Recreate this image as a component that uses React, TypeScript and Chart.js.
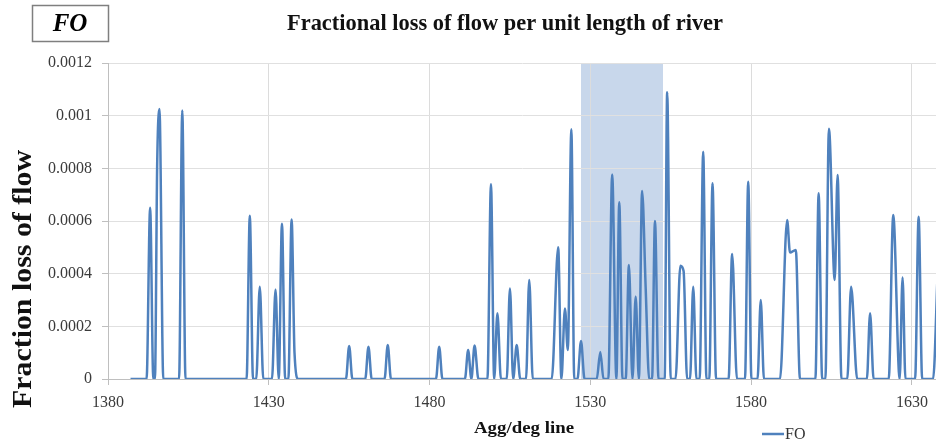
import React, { useEffect, useRef } from "react";
import Chart from "chart.js/auto";

// ---- data ----
const xValues: number[] = [
  1387, 1392, 1393.1, 1394.1, 1394.6, 1395.3, 1396, 1397.2, 1402.1, 1403.1, 1404.1,
  1423.1, 1424.1, 1425.1, 1426.1, 1427.2, 1428.3, 1431, 1432.1, 1433.1, 1434.1, 1435.1,
  1436.1, 1437.1, 1438, 1439.2, 1454, 1455, 1456, 1460, 1461, 1462, 1466, 1467, 1468,
  1482, 1483, 1484, 1491, 1492, 1493, 1494, 1495.2, 1498, 1499.1, 1500.1, 1501.1, 1502.2,
  1504, 1505, 1506, 1507.1, 1508.2, 1510, 1511, 1512.1, 1518, 1520, 1521, 1522.1, 1523,
  1524.1, 1525, 1526, 1527.1, 1528.2, 1532, 1533.1, 1534.1, 1535.6, 1536.8, 1538.1, 1539,
  1540, 1541, 1542, 1543.1, 1544.1, 1545.1, 1546.1, 1547.2, 1548.3, 1549.2, 1550.1, 1551.2,
  1553.1, 1553.9, 1555, 1556.5, 1558, 1559, 1560.1, 1561, 1562, 1563, 1564, 1565.1, 1566.1,
  1567, 1568, 1569.1, 1573, 1574.1, 1575.6, 1578.1, 1579.1, 1580.1, 1582, 1583, 1584,
  1589, 1591.2, 1592.1, 1593.9, 1595.2, 1600, 1601, 1602.1, 1603.1, 1604.2, 1606, 1606.9,
  1608.1, 1609.9, 1611.1, 1613, 1616, 1617, 1618.1, 1622.8, 1624.2, 1626.2, 1627.1, 1628,
  1631, 1632.1, 1633.2, 1636.6, 1638,
];
const foValues: number[] = [
  0, 0, 0.00065, 0, 0, 0.00082, 0.001025, 0, 0, 0.00102, 0,
  0, 0.00062, 0, 0, 0.00035, 0, 0, 0.00034, 0, 0.00059, 0,
  0, 0.000606, 0.0001, 0, 0, 0.000125, 0, 0, 0.000122, 0, 0, 0.000129, 0,
  0, 0.000122, 0, 0, 0.00011, 0, 0.000127, 0, 0, 0.00074, 0, 0.00025, 0,
  0, 0.000344, 0, 0.000129, 0, 0, 0.000376, 0, 0, 0.0005, 0, 0.000268, 0.00011,
  0.000948, 0, 0, 0.000144, 0, 0, 0.000103, 0, 0, 0.000777, 0, 0.000671,
  0, 0, 0.000433, 0, 0.000313, 0, 0.000714, 0.00035, 0, 0, 0.0006, 0,
  0, 0.001089, 0, 0, 0.00043, 0.00041, 0, 0, 0.00035, 0, 0, 0.000863, 0,
  0, 0.000743, 0, 0, 0.000475, 0, 0, 0.000749, 0, 0, 0.0003, 0,
  0, 0.000604, 0.00048, 0.00049, 0, 0, 0.000705, 0, 0, 0.00095, 0.000376, 0.000775,
  0, 0, 0.00035, 0, 0, 0.00025, 0, 0, 0.000623, 0, 0.000385, 0,
  0, 0.000616, 0, 0, 0.0004,
];
const xTickValues: number[] = [1380, 1430, 1480, 1530, 1580, 1630];
const yTickValues: number[] = [0, 0.0002, 0.0004, 0.0006, 0.0008, 0.001, 0.0012];
const highlightRange: number[] = [1527.1, 1552.6];
const seriesName = "FO";
const chartTitle = "Fractional loss of flow per unit length of river";
const xTitle = "Agg/deg line";
const yTitle = "Fraction loss of flow";
const boxLabel = "FO";

const LINE = "#4F81BD";
const SERIF = "'Liberation Serif', 'DejaVu Serif', serif";

function fitText(
  ctx: CanvasRenderingContext2D,
  text: string,
  x: number,
  y: number,
  font: string,
  targetW: number,
  rot = 0
) {
  ctx.save();
  ctx.font = font;
  const w = ctx.measureText(text).width;
  const sx = targetW / w;
  ctx.translate(x, y);
  if (rot) ctx.rotate(rot);
  ctx.scale(sx, 1);
  ctx.textAlign = "center";
  ctx.textBaseline = "middle";
  ctx.fillText(text, 0, 0);
  ctx.restore();
}

const decorPlugin = {
  id: "decor",
  beforeDraw(chart: any) {
    const { ctx, chartArea, scales } = chart;
    const x0 = scales.x.getPixelForValue(highlightRange[0]);
    const x1 = scales.x.getPixelForValue(highlightRange[1]);
    ctx.save();
    ctx.fillStyle = "#C8D7EB";
    ctx.fillRect(x0, chartArea.top, x1 - x0, chartArea.bottom - chartArea.top);
    ctx.restore();
  },
  afterDraw(chart: any) {
    const { ctx } = chart;
    ctx.save();
    // FO box
    ctx.strokeStyle = "#7F7F7F";
    ctx.lineWidth = 1.5;
    ctx.strokeRect(32.5, 5.5, 76, 36);
    ctx.fillStyle = "#000";
    ctx.font = `italic bold 25px ${SERIF}`;
    ctx.textAlign = "center";
    ctx.textBaseline = "middle";
    ctx.fillText(boxLabel, 70, 25);
    // main title
    ctx.fillStyle = "#111";
    fitText(ctx, chartTitle, 505, 24, `bold 23px ${SERIF}`, 436);
    // y title
    fitText(ctx, yTitle, 24, 279, `bold 28px ${SERIF}`, 258, -Math.PI / 2);
    // x title
    fitText(ctx, xTitle, 524, 429, `bold 17px ${SERIF}`, 100);
    // legend
    ctx.strokeStyle = LINE;
    ctx.lineWidth = 2.5;
    ctx.beginPath();
    ctx.moveTo(762, 434);
    ctx.lineTo(784, 434);
    ctx.stroke();
    ctx.fillStyle = "#333";
    ctx.font = `16px ${SERIF}`;
    ctx.textAlign = "left";
    ctx.textBaseline = "middle";
    ctx.fillText(seriesName, 785, 435);
    ctx.restore();
  },
};

export default function App() {
  const ref = useRef<HTMLCanvasElement | null>(null);
  useEffect(() => {
    if (!ref.current) return;
    const data = xValues.map((x, i) => ({ x, y: foValues[i] }));
    const chart = new Chart(ref.current, {
      type: "line",
      data: {
        datasets: [
          {
            label: seriesName,
            data,
            borderColor: LINE,
            backgroundColor: LINE,
            borderWidth: 2.5,
            pointRadius: 0,
            cubicInterpolationMode: "monotone",
            fill: false,
          },
        ],
      },
      options: {
        animation: false,
        responsive: false,
        maintainAspectRatio: false,
        layout: { padding: { top: 63, right: 0, left: 0, bottom: 0 } },
        plugins: {
          legend: { display: false },
          title: { display: false },
          tooltip: { enabled: false },
        },
        scales: {
          x: {
            type: "linear",
            min: 1380,
            max: 1637.5,
            afterBuildTicks: (scale: any) => {
              scale.ticks = xTickValues.map((v) => ({ value: v }));
            },
            afterFit: (scale: any) => {
              scale.height = 65;
            },
            ticks: {
              font: { family: SERIF, size: 16 },
              color: "#3a3a3a",
              padding: 8,
              maxRotation: 0,
              callback: (v: any) => String(v),
            },
            grid: {
              color: "#DCDCDC",
              tickColor: "#BFBFBF",
              tickLength: 6,
              drawTicks: true,
            },
            border: { color: "#BFBFBF", width: 1 },
          },
          y: {
            min: 0,
            max: 0.0012,
            afterBuildTicks: (scale: any) => {
              scale.ticks = yTickValues.map((v) => ({ value: v }));
            },
            afterFit: (scale: any) => {
              scale.width = 108;
            },
            ticks: {
              font: { family: SERIF, size: 16 },
              color: "#3a3a3a",
              padding: 10,
              callback: (v: any) => String(Number(Number(v).toFixed(4))),
            },
            grid: {
              color: "#E0E0E0",
              tickColor: "#BFBFBF",
              tickLength: 6,
            },
            border: { color: "#BFBFBF", width: 1 },
          },
        },
      },
      plugins: [decorPlugin],
    } as any);
    return () => chart.destroy();
  }, []);
  return (
    <div style={{ position: "fixed", left: 0, top: 0, width: 936, height: 444, background: "#fff" }}>
      <canvas ref={ref} width={936} height={444} style={{ display: "block", width: 936, height: 444 }} />
    </div>
  );
}
